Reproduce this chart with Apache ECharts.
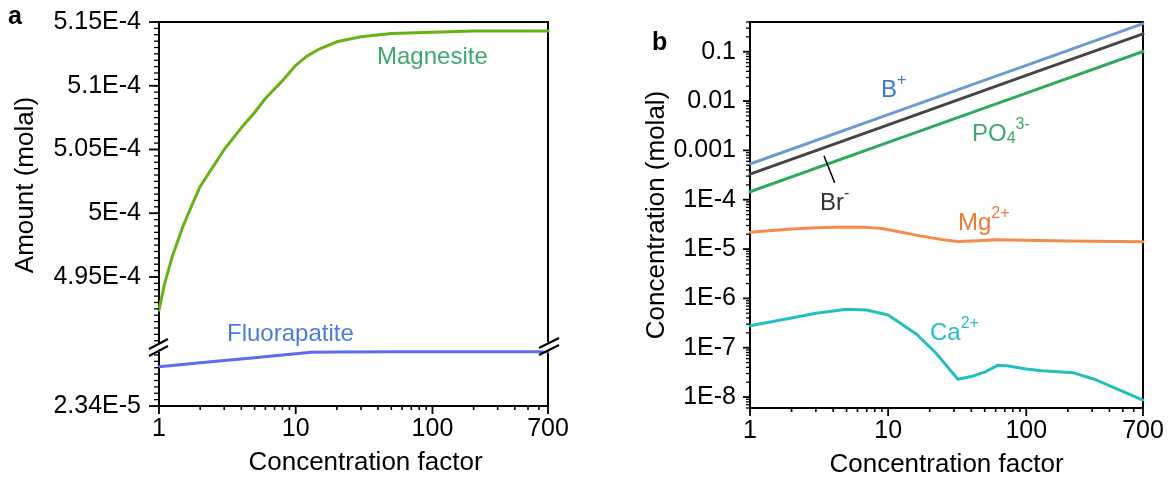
<!DOCTYPE html>
<html><head><meta charset="utf-8">
<script src="https://cdn.jsdelivr.net/npm/echarts@6/dist/echarts.min.js"></script>
<style>html,body{margin:0;padding:0;background:#fff}#c{width:1173px;height:479px}</style>
</head><body><div id="c"></div>
<script>
// ---------------- data: panel a ----------------
const cfMagnesite = [1, 1.1, 1.25, 1.5, 1.75, 2, 2.5, 3, 4, 5, 6, 8, 10, 12, 15, 20, 30, 50, 100, 200, 400, 700];
const magnesite = [4.924e-4, 4.945e-4, 4.966e-4, 4.990e-4, 5.007e-4, 5.021e-4, 5.037e-4, 5.050e-4, 5.067e-4, 5.079e-4, 5.090e-4, 5.104e-4, 5.116e-4, 5.123e-4, 5.129e-4, 5.1345e-4, 5.1385e-4, 5.141e-4, 5.142e-4, 5.143e-4, 5.143e-4, 5.143e-4];
const cfFluorapatite = [1, 2, 3, 5, 7, 10, 13, 20, 50, 100, 300, 700];
const fluorapatite = [2.648e-5, 2.679e-5, 2.696e-5, 2.719e-5, 2.734e-5, 2.750e-5, 2.761e-5, 2.764e-5, 2.766e-5, 2.766e-5, 2.766e-5, 2.766e-5];
const xTicks = [1, 10, 100, 700];
const xTickLabels = ['1', '10', '100', '700'];
const amountTicks = [4.95e-4, 5e-4, 5.05e-4, 5.1e-4, 5.15e-4];
const amountTickLabels = ['4.95E-4', '5E-4', '5.05E-4', '5.1E-4', '5.15E-4'];
const amountLowTicks = [2.34e-5];
const amountLowTickLabels = ['2.34E-5'];

// ---------------- data: panel b ----------------
const cfLinear = [1, 10, 100, 700];
const bPlus = [5.3e-4, 5.3e-3, 5.3e-2, 0.37];
const brMinus = [3.3e-4, 3.3e-3, 3.3e-2, 0.23];
const po4 = [1.45e-4, 1.45e-3, 1.45e-2, 0.101];
const cfMg = [1, 2, 3, 5, 7, 9, 12, 17, 25, 32, 45, 60, 100, 200, 700];
const mg = [2.2e-5, 2.55e-5, 2.7e-5, 2.8e-5, 2.75e-5, 2.6e-5, 2.25e-5, 1.85e-5, 1.55e-5, 1.42e-5, 1.48e-5, 1.55e-5, 1.5e-5, 1.46e-5, 1.4e-5];
const cfCa = [1, 2, 3, 5, 7, 10, 16, 22, 32, 40, 50, 62, 72, 100, 130, 220, 310, 700];
const ca = [2.8e-7, 4.0e-7, 5.0e-7, 6.0e-7, 5.8e-7, 4.6e-7, 1.9e-7, 8e-8, 2.3e-8, 2.6e-8, 3.2e-8, 4.4e-8, 4.3e-8, 3.7e-8, 3.4e-8, 3.1e-8, 2.3e-8, 8.7e-9];
const concTicks = [1e-8, 1e-7, 1e-6, 1e-5, 1e-4, 1e-3, 1e-2, 0.1];
const concTickLabels = ['1E-8', '1E-7', '1E-6', '1E-5', '1E-4', '0.001', '0.01', '0.1'];
const brLeader = [[3.43, 7.8e-4], [4.1, 2.2e-4]];

// ---------------- layout / style ----------------
const FONT = '"Liberation Sans", Arial, sans-serif';
const AXC = '#000';
const upMin = 4.8943e-4, upMax = 5.15e-4;
const lowMin = 2.34e-5, lowMax = 2.7949e-5;
const bMin = 6e-9, bMax = 0.4;

function fmt(vals, labels) {
  return function (v) {
    const n = (v && typeof v === 'object') ? v.value : v;
    for (let i = 0; i < vals.length; i++) {
      if (Math.abs(n - vals[i]) <= Math.abs(vals[i]) * 1e-6) return labels[i];
    }
    return ' ';
  };
}
function zip(xs, ys) { return xs.map((x, i) => [x, ys[i]]); }

const xMinor = [];
[1, 10, 100].forEach(d => { for (let m = 2; m <= 9; m++) { const v = m * d; if (v < 700) xMinor.push(v); } });
const upMinor = [];
for (let i = 979; i <= 1030; i++) { const v = i * 5e-7; if (v >= upMin && v <= upMax) upMinor.push(v); }
const lowMinor = [];
for (let k = 0; k <= 9; k++) { const v = lowMin + k * 5e-7; if (v <= lowMax) lowMinor.push(v); }
const bMinor = [];
for (let e = -9; e <= -1; e++) for (let m = 2; m <= 9; m++) { const v = m * Math.pow(10, e); if (v >= bMin && v <= bMax) bMinor.push(v); }

function lineAx() { return { show: true, onZero: false, lineStyle: { color: AXC, width: 2 } }; }
function lbl() { return { color: '#000', fontSize: 25, fontFamily: FONT }; }
function nameStyle() { return { color: '#000', fontSize: 26, fontFamily: FONT }; }

function xMain(grid, name, pad) {
  return { gridIndex: grid, type: 'log', logBase: 10, min: 1, max: 700, position: 'bottom',
    axisLine: lineAx(), splitLine: { show: false }, axisTick: { show: false },
    axisLabel: Object.assign({ customValues: xTicks.slice(), formatter: fmt(xTicks, xTickLabels), margin: 11 }, lbl()),
    name: name, nameLocation: 'middle', nameGap: 44, nameTextStyle: Object.assign({ padding: pad }, nameStyle()) };
}
function xTop(grid) {
  return { gridIndex: grid, type: 'log', logBase: 10, min: 1, max: 700, position: 'top',
    axisLine: lineAx(), splitLine: { show: false }, axisLabel: { show: false }, axisTick: { show: false } };
}
function yMain(grid, type, min, max, ticks, labels, name, gap, margin) {
  const o = { gridIndex: grid, type: type, min: min, max: max, position: 'left',
    axisLine: lineAx(), splitLine: { show: false }, axisTick: { show: false },
    axisLabel: Object.assign({ customValues: ticks.slice(), formatter: fmt(ticks, labels), margin: margin }, lbl()) };
  if (type === 'log') o.logBase = 10;
  if (name) { o.name = name; o.nameLocation = 'middle'; o.nameGap = gap; o.nameTextStyle = nameStyle(); }
  return o;
}
function yRight(grid, type, min, max) {
  const o = { gridIndex: grid, type: type, min: min, max: max, position: 'right',
    axisLine: lineAx(), splitLine: { show: false }, axisLabel: { show: false }, axisTick: { show: false } };
  if (type === 'log') o.logBase = 10;
  return o;
}
function series(name, xi, yi, xs, ys, color) {
  return { name: name, type: 'line', xAxisIndex: xi, yAxisIndex: yi, data: zip(xs, ys),
    showSymbol: false, symbol: 'none', smooth: false,
    lineStyle: { color: color, width: 3, join: 'round', cap: 'round' }, itemStyle: { color: color }, z: 3 };
}
function txt(id, x, y, text, rich) {
  return { id: id, type: 'text', x: x, y: y, z: 100,
    style: { text: text, rich: rich, fontFamily: FONT, fontSize: 24, verticalAlign: 'middle', align: 'left' } };
}
function rs(color, size, pad) {
  const o = { fill: color, fontSize: size, fontFamily: FONT };
  if (pad) o.padding = pad;
  return o;
}
function baseGraphics() {
  return [
    // axis break marks (panel a)
    { id: 'br1', type: 'rect', z: 100, shape: { x: 150, y: 343, width: 14, height: 9 }, style: { fill: '#fff' } },
    { id: 'br2', type: 'line', z: 101, shape: { x1: 149, y1: 349, x2: 168, y2: 339 }, style: { stroke: '#000', lineWidth: 2 } },
    { id: 'br3', type: 'line', z: 101, shape: { x1: 149, y1: 356, x2: 168, y2: 346 }, style: { stroke: '#000', lineWidth: 2 } },
    { id: 'br4', type: 'rect', z: 100, shape: { x: 543, y: 342, width: 12, height: 9 }, style: { fill: '#fff' } },
    { id: 'br5', type: 'line', z: 101, shape: { x1: 539, y1: 348, x2: 559, y2: 338 }, style: { stroke: '#000', lineWidth: 2 } },
    { id: 'br6', type: 'line', z: 101, shape: { x1: 539, y1: 355, x2: 559, y2: 345 }, style: { stroke: '#000', lineWidth: 2 } },
    // panel letters
    { id: 'la', type: 'text', x: 8, y: 17, z: 100, style: { text: 'a', fontFamily: FONT, fontWeight: 'bold', fontSize: 25, fill: '#000', verticalAlign: 'middle' } },
    { id: 'lb', type: 'text', x: 652, y: 43, z: 100, style: { text: 'b', fontFamily: FONT, fontWeight: 'bold', fontSize: 25, fill: '#000', verticalAlign: 'middle' } },
    // series labels
    { id: 'tMag', type: 'text', x: 377, y: 57, z: 100, style: { text: 'Magnesite', fontFamily: FONT, fontSize: 24, fill: '#3CAA6E', verticalAlign: 'middle' } },
    { id: 'tFl', type: 'text', x: 227, y: 334, z: 100, style: { text: 'Fluorapatite', fontFamily: FONT, fontSize: 24, fill: '#4A7BE6', verticalAlign: 'middle' } },
    txt('tB', 881, 90, '{m|B}{s|+}', { m: rs('#3A7AD0', 24), s: rs('#3A7AD0', 16, [0, 0, 18, 0]) }),
    txt('tP', 972, 134, '{m|PO}{d|4}{s|3-}', { m: rs('#3CAA6E', 24), d: rs('#3CAA6E', 16, [10, 0, 0, 0]), s: rs('#3CAA6E', 16, [0, 0, 18, 0]) }),
    txt('tBr', 820, 203, '{m|Br}{s|-}', { m: rs('#333333', 24), s: rs('#333333', 16, [0, 0, 18, 0]) }),
    txt('tMg', 958, 223, '{m|Mg}{s|2+}', { m: rs('#F07A30', 24), s: rs('#F07A30', 16, [0, 0, 18, 0]) }),
    txt('tCa', 930, 333, '{m|Ca}{s|2+}', { m: rs('#20C0C0', 24), s: rs('#20C0C0', 16, [0, 0, 18, 0]) })
  ];
}
function buildOption(extraEls) {
  return {
    animation: false,
    backgroundColor: '#fff',
    grid: [
      { left: 159, top: 22, width: 389, height: 326, outerBoundsMode: 'none', containLabel: false },
      { left: 159, top: 348, width: 389, height: 58, outerBoundsMode: 'none', containLabel: false },
      { left: 750, top: 22, width: 393, height: 386, outerBoundsMode: 'none', containLabel: false }
    ],
    xAxis: [
      xMain(1, 'Concentration factor', [0, 0, 0, 24]),
      xTop(0),
      xMain(2, 'Concentration factor', [0, 0, 0, 0]),
      xTop(2)
    ],
    yAxis: [
      yMain(0, 'value', upMin, upMax, amountTicks, amountTickLabels, 'Amount (molal)', 120, 18),
      yRight(0, 'value', upMin, upMax),
      yMain(1, 'value', lowMin, lowMax, amountLowTicks, amountLowTickLabels, null, 0, 18),
      yRight(1, 'value', lowMin, lowMax),
      yMain(2, 'log', bMin, bMax, concTicks, concTickLabels, 'Concentration (molal)', 80, 14),
      yRight(2, 'log', bMin, bMax)
    ],
    series: [
      series('Magnesite', 1, 0, cfMagnesite, magnesite, '#66B414'),
      series('Fluorapatite', 0, 2, cfFluorapatite, fluorapatite, '#5A6CF0'),
      series('B+', 2, 4, cfLinear, bPlus, '#6C9BD2'),
      series('Br-', 2, 4, cfLinear, brMinus, '#454545'),
      series('PO4', 2, 4, cfLinear, po4, '#2EAA5E'),
      series('Mg', 2, 4, cfMg, mg, '#F58C4C'),
      series('Ca', 2, 4, cfCa, ca, '#22BFBF')
    ],
    graphic: { elements: baseGraphics().concat(extraEls) }
  };
}

const el = document.getElementById('c');
// pass 1: lay the chart out so the axes' own scales can be queried
let chart = echarts.init(el, null, { renderer: 'canvas' });
try { chart.setOption(buildOption([])); } catch (e) { }

const extraEls = [];
let tickId = 0;
function px(seriesIndex, pt) {
  try { return chart.convertToPixel({ seriesIndex: seriesIndex }, pt); } catch (e) { return null; }
}
function addTicks(seriesIndex, vals, along, other, len, w) {
  vals.forEach(v => {
    const p = px(seriesIndex, along === 'x' ? [v, other] : [other, v]);
    if (!p || !isFinite(p[0]) || !isFinite(p[1])) return;
    const shape = along === 'x'
      ? { x: p[0] - w / 2, y: p[1], width: w, height: len }
      : { x: p[0] - len, y: p[1] - w / 2, width: len, height: w };
    extraEls.push({ id: 'tick' + (tickId++), type: 'rect', z: 50, shape: shape, style: { fill: AXC } });
  });
}
addTicks(1, xTicks, 'x', lowMin, 8, 1.8);
addTicks(1, xMinor, 'x', lowMin, 4, 1.6);
addTicks(0, amountTicks, 'y', 1, 10, 1.8);
addTicks(0, upMinor, 'y', 1, 5, 1.3);
addTicks(1, amountLowTicks, 'y', 1, 10, 1.8);
addTicks(1, lowMinor, 'y', 1, 5, 1.3);
addTicks(2, xTicks, 'x', bMin, 8, 1.8);
addTicks(2, xMinor, 'x', bMin, 4, 1.6);
addTicks(2, concTicks, 'y', 1, 7, 1.8);
addTicks(2, bMinor, 'y', 1, 4, 1.3);
const la = px(3, brLeader[0]), lb = px(3, brLeader[1]);
if (la && lb) extraEls.push({ id: 'leader', type: 'line', z: 50, shape: { x1: la[0], y1: la[1], x2: lb[0], y2: lb[1] }, style: { stroke: '#000', lineWidth: 1.5 } });

// pass 2: a fresh instance, everything given in one setOption
chart.dispose();
chart = echarts.init(el, null, { renderer: 'canvas' });
try { chart.setOption(buildOption(extraEls)); } catch (e) { }
</script>
</body></html>
